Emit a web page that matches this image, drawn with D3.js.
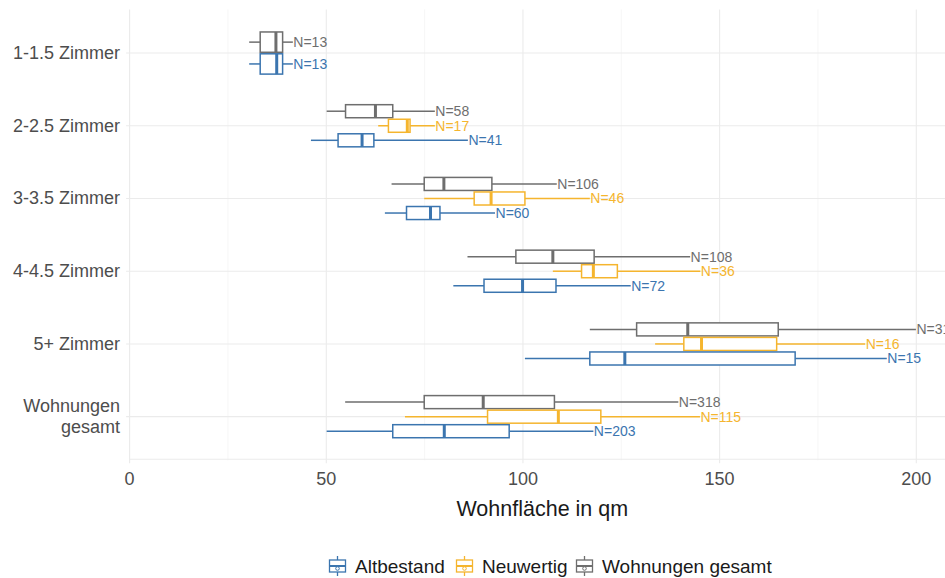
<!DOCTYPE html>
<html>
<head>
<meta charset="utf-8">
<script src="https://cdn.jsdelivr.net/npm/d3@7"></script>
<style>
  html, body { margin: 0; padding: 0; background: #fff; }
  svg { display: block; font-family: "Liberation Sans", Arial, sans-serif; }
</style>
</head>
<body>
<svg id="chart" width="945" height="578"></svg>
<script>
// ---- data ----
const categories = ["1-1.5 Zimmer", "2-2.5 Zimmer", "3-3.5 Zimmer", "4-4.5 Zimmer", "5+ Zimmer", "Wohnungen gesamt"];
const groups = ["Altbestand", "Neuwertig", "Wohnungen gesamt"];
const groupColors = ["#3b75af", "#f5b52e", "#6e6e6e"];
// [min, q1, median, q3, max] per category (null = no data)
const altbestandStats = [
  [30.4, 33.2, 37.4, 38.9, 41.5],
  [46.1, 53.0, 59.1, 62.1, 86.0],
  [64.9, 70.4, 76.5, 78.9, 92.9],
  [82.3, 90.1, 99.9, 108.4, 127.4],
  [100.5, 117.0, 125.9, 169.2, 192.5],
  [50.1, 66.9, 80.0, 96.5, 117.9]
];
const neuwertigStats = [
  null,
  [63.2, 65.8, 70.6, 71.3, 77.6],
  [74.9, 87.6, 91.9, 100.5, 117.0],
  [107.6, 114.9, 117.9, 124.0, 145.1],
  [133.6, 140.9, 145.4, 164.5, 187.0],
  [70.0, 91.0, 109.0, 119.8, 145.0]
];
const gesamtStats = [
  [30.4, 33.2, 37.2, 38.9, 41.5],
  [50.1, 54.9, 62.5, 66.9, 77.6],
  [66.6, 74.9, 79.9, 92.1, 108.6],
  [85.9, 98.2, 107.6, 118.1, 142.5],
  [117.0, 128.9, 141.9, 164.9, 199.9],
  [54.8, 74.9, 89.9, 108.0, 139.5]
];
const altbestandN = [13, 41, 60, 72, 15, 203];
const neuwertigN = [null, 17, 46, 36, 16, 115];
const gesamtN = [13, 58, 106, 108, 31, 318];
const xTicks = [0, 50, 100, 150, 200];
const xMinor = [25, 75, 125, 175];
const xTitle = "Wohnfläche in qm";

// ---- layout ----
const svg = d3.select("#chart");
const panel = { left: 129.6, right: 945, top: 9.4, bottom: 460.3 };
const x = d3.scaleLinear().domain([0, 200]).range([129.6, 916.3]);
const y = d3.scaleBand().domain(categories).range([panel.top, panel.bottom])
  .paddingInner(0.4).paddingOuter(0.3);

const statsByGroup = [altbestandStats, neuwertigStats, gesamtStats];
const nByGroup = [altbestandN, neuwertigN, gesamtN];

const gridColor = "#ebebeb";
const minorColor = "#f4f4f4";

// minor vertical grid
svg.append("g").selectAll("line").data(xMinor).join("line")
  .attr("x1", d => x(d)).attr("x2", d => x(d))
  .attr("y1", panel.top).attr("y2", panel.bottom)
  .attr("stroke", minorColor).attr("stroke-width", 0.8);
// major vertical grid + ticks
svg.append("g").selectAll("line").data(xTicks).join("line")
  .attr("x1", d => x(d)).attr("x2", d => x(d))
  .attr("y1", panel.top).attr("y2", panel.bottom + 3)
  .attr("stroke", gridColor).attr("stroke-width", 1.1);
// horizontal grid + ticks
svg.append("g").selectAll("line").data(categories).join("line")
  .attr("x1", panel.left - 3.5).attr("x2", panel.right)
  .attr("y1", d => y(d) + y.bandwidth() / 2).attr("y2", d => y(d) + y.bandwidth() / 2)
  .attr("stroke", gridColor).attr("stroke-width", 1.1);
// bottom axis line
svg.append("line").attr("x1", panel.left).attr("x2", panel.right)
  .attr("y1", panel.bottom - 1).attr("y2", panel.bottom - 1)
  .attr("stroke", gridColor).attr("stroke-width", 1.1);

// x tick labels
svg.append("g").selectAll("text").data(xTicks).join("text")
  .attr("x", d => x(d)).attr("y", 485)
  .attr("text-anchor", "middle").attr("font-size", 18).attr("fill", "#4d4d4d")
  .text(d => d);
// x title
svg.append("text").attr("x", (panel.left + panel.right) / 2 + 5).attr("y", 516)
  .attr("text-anchor", "middle").attr("font-size", 21.5).attr("fill", "#1a1a1a")
  .text(xTitle);

// y labels
const yl = svg.append("g");
categories.forEach(c => {
  const cy = y(c) + y.bandwidth() / 2;
  const words = c === "Wohnungen gesamt" ? ["Wohnungen", "gesamt"] : [c];
  const lh = 21;
  words.forEach((w, i) => {
    yl.append("text")
      .attr("x", 120)
      .attr("y", cy + 6 + (i - (words.length - 1) / 2) * lh)
      .attr("text-anchor", "end").attr("font-size", 18).attr("fill", "#4d4d4d")
      .text(w);
  });
});

// boxes
const order = [2, 1, 0]; // top to bottom: gesamt, neuwertig, altbestand
const boxes = svg.append("g");
categories.forEach((c, ci) => {
  const present = order.filter(g => statsByGroup[g][ci] !== null);
  const inner = d3.scaleBand().domain(present).range([y(c), y(c) + y.bandwidth()]);
  present.forEach(g => {
    const s = statsByGroup[g][ci];
    const col = groupColors[g];
    const y0 = inner(g), h = inner.bandwidth(), yc = y0 + h / 2;
    const gg = boxes.append("g");
    gg.append("line").attr("x1", x(s[0])).attr("x2", x(s[1])).attr("y1", yc).attr("y2", yc)
      .attr("stroke", col).attr("stroke-width", 1.5);
    gg.append("line").attr("x1", x(s[3])).attr("x2", x(s[4])).attr("y1", yc).attr("y2", yc)
      .attr("stroke", col).attr("stroke-width", 1.5);
    gg.append("rect").attr("x", x(s[1])).attr("y", y0 + 0.75)
      .attr("width", x(s[3]) - x(s[1])).attr("height", h - 1.5)
      .attr("fill", "#fff").attr("stroke", col).attr("stroke-width", 1.5);
    gg.append("line").attr("x1", x(s[2])).attr("x2", x(s[2])).attr("y1", y0 + 0.75).attr("y2", y0 + h - 0.75)
      .attr("stroke", col).attr("stroke-width", 3);
    gg.append("text").attr("x", x(s[4]) + 0.5).attr("y", yc + 5)
      .attr("font-size", 14).attr("fill", col)
      .text("N=" + nByGroup[g][ci]);
  });
});

// legend
const legendX = [328, 455, 575];
const lg = svg.append("g");
groups.forEach((g, i) => {
  const col = groupColors[i];
  const kx = legendX[i], cy = 566;
  lg.append("line").attr("x1", kx + 9.5).attr("x2", kx + 9.5).attr("y1", cy - 10).attr("y2", cy + 10)
    .attr("stroke", col).attr("stroke-width", 1.3);
  lg.append("rect").attr("x", kx + 1.5).attr("y", cy - 6).attr("width", 16).attr("height", 12)
    .attr("fill", "#fff").attr("stroke", col).attr("stroke-width", 1.3);
  lg.append("line").attr("x1", kx + 1.5).attr("x2", kx + 17.5).attr("y1", cy).attr("y2", cy)
    .attr("stroke", col).attr("stroke-width", 2);
  lg.append("circle").attr("cx", kx + 9.5).attr("cy", cy + 2.5).attr("r", 1.8)
    .attr("fill", "#fff").attr("stroke", col).attr("stroke-width", 1);
  lg.append("text").attr("x", kx + 27).attr("y", cy + 7)
    .attr("font-size", 19).attr("fill", "#1a1a1a").text(g);
});
</script>
</body>
</html>
